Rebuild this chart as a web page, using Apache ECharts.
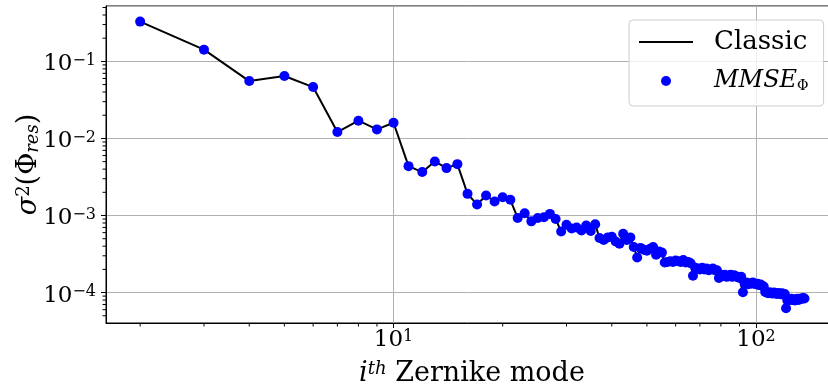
<!DOCTYPE html>
<html><head><meta charset="utf-8">
<script src="https://cdn.jsdelivr.net/npm/echarts@6/dist/echarts.min.js"></script>
<style>html,body{margin:0;padding:0;background:#fff}#c{width:828px;height:389px}</style>
</head><body><div id="c"></div>
<script>
// Zernike mode index (piston excluded), radial orders 1..15
const modes = [2,3,4,5,6,7,8,9,10,11,12,13,14,15,16,17,18,19,20,21,22,23,24,25,26,27,28,29,30,
31,32,33,34,35,36,37,38,39,40,41,42,43,44,45,46,47,48,49,50,51,52,53,54,55,56,57,58,59,60,
61,62,63,64,65,66,67,68,69,70,71,72,73,74,75,76,77,78,79,80,81,82,83,84,85,86,87,88,89,90,
91,92,93,94,95,96,97,98,99,100,101,102,103,104,105,106,107,108,109,110,111,112,113,114,115,
116,117,118,119,120,121,122,123,124,125,126,127,128,129,130,131,132,133,134,135,136];

// residual variance per mode
const classicVar = [
 0.328, 0.142,
 0.0555, 0.0645, 0.0464,
 0.0121, 0.0170, 0.0131, 0.0160,
 0.00437, 0.00366, 0.00503, 0.00412, 0.00464,
 0.00191, 0.00139, 0.00182, 0.00152, 0.00173, 0.00160,
 0.00093, 0.00107, 0.00084, 0.00093, 0.00095, 0.00105, 0.00090,
 0.00062, 0.00076, 0.00068, 0.00070, 0.00064, 0.00074, 0.00063, 0.00077,
 0.00051, 0.00048, 0.00052, 0.00053, 0.00046, 0.00043, 0.00058, 0.00048, 0.00052,
 0.00039, 0.000285, 0.00038, 0.00036, 0.00035, 0.00037, 0.00039, 0.00031, 0.00034, 0.00033,
 0.000245, 0.00025, 0.000255, 0.00025, 0.00026, 0.000255, 0.00025, 0.000265, 0.000245, 0.00025, 0.00024,
 0.000165, 0.00021, 0.000205, 0.00020, 0.00021, 0.00020, 0.000205, 0.000195, 0.00020, 0.000205, 0.000195, 0.000195,
 0.000155, 0.00017, 0.000165, 0.00017, 0.00016, 0.000165, 0.00017, 0.00016, 0.000168, 0.000162, 0.00016, 0.000155, 0.00016,
 0.000101, 0.00013, 0.000135, 0.000128, 0.000132, 0.00013, 0.000135, 0.00013, 0.000128, 0.00013, 0.000125, 0.000127, 0.000122, 0.00012,
 0.000102, 0.00010, 0.000098, 0.000101, 0.000099, 0.000097, 0.00010, 0.000098, 0.000096, 0.000099, 0.000097, 0.000095, 0.000098, 0.000094, 0.000096,
 0.0000625, 0.000079, 0.000082, 0.00008, 0.000083, 0.00008, 0.000082, 0.000079, 0.000081, 0.000083, 0.00008, 0.000082, 0.000084, 0.000083, 0.000085, 0.000084
];
const mmseVar = classicVar.slice();

const seriesNames = ['Classic', 'MMSE_Φ'];
const xMinorTicks = [2,3,4,5,6,7,8,9,20,30,40,50,60,70,80,90];
const yMinorTicks = [5e-5,6e-5,7e-5,8e-5,9e-5,2e-4,3e-4,4e-4,5e-4,6e-4,7e-4,8e-4,9e-4,
  2e-3,3e-3,4e-3,5e-3,6e-3,7e-3,8e-3,9e-3,2e-2,3e-2,4e-2,5e-2,6e-2,7e-2,8e-2,9e-2,0.2,0.3,0.4,0.5];

const FONT = 'DejaVu Serif';
const pow10Label = v => {
  const e = Math.round(Math.log10(v));
  return '10{sup|' + (e < 0 ? '\u2212' + (-e) : e) + '}';
};

const chart = echarts.init(document.getElementById('c'), null, {renderer: 'canvas'});
chart.setOption({
  animation: false,
  backgroundColor: '#fff',
  grid: {left: 106, right: -10, top: 6, bottom: 66, show: true, borderColor: '#000', borderWidth: 1,
         backgroundColor: 'transparent', containLabel: false, outerBoundsMode: 'none'},
  legend: {
    data: [
      {name: seriesNames[0], itemStyle: {opacity: 0, color: 'rgba(0,0,0,0)', borderWidth: 0},
       lineStyle: {color: '#000', width: 2, opacity: 1}},
      {name: seriesNames[1]}
    ],
    orient: 'vertical', left: 629, top: 20,
    padding: [9, 15, 13, 9], itemWidth: 54, itemHeight: 10, itemGap: 14,
    backgroundColor: 'rgba(255,255,255,0.8)', borderColor: '#cccccc', borderWidth: 1, borderRadius: 4,
    formatter: n => n === 'MMSE_Φ' ? '{it|MMSE}{sub|Φ}' : n,
    textStyle: {fontFamily: FONT, fontSize: 26, color: '#000', lineHeight: 24, padding: [0, 0, 0, 16],
      rich: {
        it: {fontFamily: FONT, fontStyle: 'italic', fontSize: 24, color: '#000', lineHeight: 24},
        sub: {fontFamily: FONT, fontSize: 14, color: '#000', verticalAlign: 'bottom', lineHeight: 15}
      }}
  },
  xAxis: {
    type: 'log', logBase: 10, min: 1.61, max: 168.3,
    axisLine: {show: true, lineStyle: {color: '#000', width: 1}},
    axisTick: {show: true, length: 5, lineStyle: {color: '#000'}},
    splitLine: {show: true, lineStyle: {color: '#b0b0b0', width: 1}},
    axisLabel: {showMinLabel: false, showMaxLabel: false, margin: 6, color: '#000',
      fontFamily: FONT, fontSize: 23, formatter: pow10Label,
      rich: {sup: {fontFamily: FONT, fontSize: 16, color: '#000', verticalAlign: 'top'}}},
    name: '{it|i}{sup|th} Zernike mode', nameLocation: 'middle', nameGap: 37,
    nameTextStyle: {fontFamily: FONT, fontSize: 27, color: '#000',
      rich: {it: {fontFamily: FONT, fontStyle: 'italic', fontSize: 27, color: '#000'},
             sup: {fontFamily: FONT, fontStyle: 'italic', fontSize: 18, color: '#000', verticalAlign: 'top'}}}
  },
  yAxis: {
    type: 'log', logBase: 10, min: 4.03e-5, max: 0.523,
    axisLine: {show: true, lineStyle: {color: '#000', width: 1}},
    axisTick: {show: true, length: 5, lineStyle: {color: '#000'}},
    splitLine: {show: true, lineStyle: {color: '#b0b0b0', width: 1}},
    axisLabel: {showMinLabel: false, showMaxLabel: false, margin: 10, color: '#000',
      fontFamily: FONT, fontSize: 23, formatter: pow10Label, padding: [6, 0, 0, 0],
      rich: {sup: {fontFamily: FONT, fontSize: 16, color: '#000', verticalAlign: 'top'}}},
    name: '{it|σ}{sup|2}(Φ{sub|res})', nameLocation: 'middle', nameGap: 64, nameRotate: 90,
    nameMoveOverlap: false,
    nameTextStyle: {fontFamily: FONT, fontSize: 27, color: '#000',
      rich: {it: {fontFamily: FONT, fontStyle: 'italic', fontSize: 27, color: '#000'},
             sup: {fontFamily: FONT, fontSize: 18, color: '#000', verticalAlign: 'top'},
             sub: {fontFamily: FONT, fontStyle: 'italic', fontSize: 18, color: '#000', verticalAlign: 'bottom'}}}
  },
  series: [
    {name: seriesNames[0], type: 'line', data: modes.map((m, i) => [m, classicVar[i]]),
     symbol: 'none', showSymbol: false, z: 2,
     itemStyle: {color: '#000'}, lineStyle: {color: '#000', width: 2}},
    {name: seriesNames[1], type: 'scatter', data: modes.map((m, i) => [m, mmseVar[i]]),
     symbol: 'circle', symbolSize: 10, z: 3, itemStyle: {color: '#0000ff', opacity: 1}},
    {name: 'xminor', type: 'custom', silent: true, clip: false, z: 5,
     data: xMinorTicks.map(v => [v, 0.01]),
     renderItem: (params, api) => {
       const cs = params.coordSys; const px = api.coord([api.value(0), 0.01])[0];
       const yb = cs.y + cs.height;
       return {type: 'line', shape: {x1: px, y1: yb, x2: px, y2: yb + 3.5}, style: {stroke: '#000', lineWidth: 1}};
     }},
    {name: 'yminor', type: 'custom', silent: true, clip: false, z: 5,
     data: yMinorTicks.map(v => [10, v]),
     renderItem: (params, api) => {
       const cs = params.coordSys; const py = api.coord([10, api.value(1)])[1];
       return {type: 'line', shape: {x1: cs.x, y1: py, x2: cs.x - 3.5, y2: py}, style: {stroke: '#000', lineWidth: 1}};
     }}
  ]
});
</script></body></html>
